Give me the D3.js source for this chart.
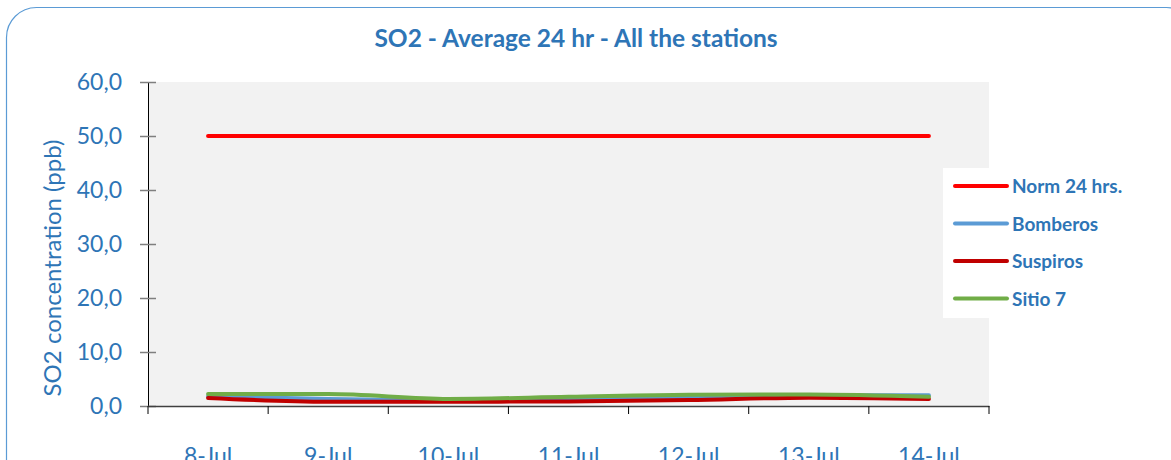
<!DOCTYPE html>
<html>
<head>
<meta charset="utf-8">
<script src="https://cdn.jsdelivr.net/npm/d3@7"></script>
<style>
  body { margin: 0; background: #fff; }
  svg { display: block; font-family: Lato, "Open Sans", sans-serif; }
</style>
</head>
<body>
<div id="chart"></div>
<script>
var days = ["8-Jul", "9-Jul", "10-Jul", "11-Jul", "12-Jul", "13-Jul", "14-Jul"];
var norm = [50, 50, 50, 50, 50, 50, 50];
var bomberos = [1.8, 1.3, 1.05, 1.2, 1.6, 1.9, 2.0];
var suspiros = [1.5, 0.8, 0.8, 0.85, 1.1, 1.55, 1.3];
var sitio7 = [2.2, 2.2, 1.3, 1.7, 2.1, 2.15, 1.7];
var yTicks = [0, 10, 20, 30, 40, 50, 60];

var series = [
    {name: "Norm 24 hrs.", values: norm, color: "#ff0000"},
    {name: "Bomberos", values: bomberos, color: "#5b9bd5"},
    {name: "Suspiros", values: suspiros, color: "#c00000"},
    {name: "Sitio 7", values: sitio7, color: "#70ad47"}
];

var width = 1171, height = 460;
var margin = {left: 148, right: 182, top: 82, bottom: 54};
var blue = "#2e75b6";

var svg = d3.select("#chart").append("svg")
    .attr("width", width)
    .attr("height", height);

// outer frame
svg.append("rect")
    .attr("x", 6.5).attr("y", 7.5)
    .attr("width", 1190).attr("height", 500)
    .attr("rx", 30).attr("ry", 30)
    .attr("fill", "none")
    .attr("stroke", "#5b9bd5")
    .attr("stroke-width", 1.2);

var x = d3.scaleBand()
    .domain(days)
    .range([margin.left, width - margin.right]);

var y = d3.scaleLinear()
    .domain([0, 60])
    .range([height - margin.bottom, margin.top]);

// plot background
svg.append("rect")
    .attr("x", margin.left)
    .attr("y", margin.top)
    .attr("width", width - margin.right - margin.left)
    .attr("height", y(0) - margin.top)
    .attr("fill", "#f2f2f2");

// title
svg.append("text")
    .attr("x", 576).attr("y", 47)
    .attr("text-anchor", "middle")
    .attr("fill", blue)
    .attr("font-weight", "bold")
    .attr("font-size", 24.5)
    .text("SO2 - Average 24 hr - All the stations");

// y axis
var yAxis = svg.append("g")
    .attr("transform", "translate(" + margin.left + ",0)")
    .call(d3.axisLeft(y).tickValues(yTicks).tickSize(0).tickPadding(26)
        .tickFormat(function(d) { return d3.format(".1f")(d).replace(".", ","); }));
yAxis.select(".domain").attr("stroke", "#000");
yAxis.selectAll(".tick text")
    .attr("fill", blue)
    .attr("font-size", 23)
    .attr("font-family", "Lato, 'Open Sans', sans-serif");
yAxis.selectAll(".tick").append("line")
    .attr("x1", -8).attr("x2", 8)
    .attr("stroke", "#7f7f7f")
    .attr("stroke-width", 1.5);

svg.append("text")
    .attr("transform", "translate(61,268) rotate(-90)")
    .attr("text-anchor", "middle")
    .attr("fill", blue)
    .attr("font-size", 24)
    .text("SO2 concentration (ppb)");

// x axis
var xAxis = svg.append("g")
    .attr("transform", "translate(0," + y(0) + ")")
    .call(d3.axisBottom(x).tickSize(0).tickPadding(42));
xAxis.select(".domain").attr("stroke", "#404040").attr("stroke-width", 1.5);
xAxis.selectAll(".tick text")
    .attr("fill", blue)
    .attr("font-size", 23)
    .attr("font-family", "Lato, 'Open Sans', sans-serif");
var edges = d3.range(days.length + 1).map(function(i) { return margin.left + i * x.step(); });
xAxis.selectAll(".edge")
    .data(edges)
    .enter().append("line")
    .attr("x1", function(d) { return d; })
    .attr("x2", function(d) { return d; })
    .attr("y1", 0).attr("y2", 8)
    .attr("stroke", "#000");

// lines
var line = d3.line()
    .x(function(d, i) { return x(days[i]) + x.bandwidth() / 2; })
    .y(function(d) { return y(d); })
    .curve(d3.curveMonotoneX);

svg.append("g").selectAll("path")
    .data(series)
    .enter().append("path")
    .attr("d", function(d) { return line(d.values); })
    .attr("fill", "none")
    .attr("stroke", function(d) { return d.color; })
    .attr("stroke-width", 4)
    .attr("stroke-linecap", "round");

// legend
var legend = svg.append("g");
legend.append("rect")
    .attr("x", 943).attr("y", 168)
    .attr("width", 230).attr("height", 150)
    .attr("fill", "#fff");
var item = legend.selectAll(".item")
    .data(series)
    .enter().append("g")
    .attr("transform", function(d, i) { return "translate(0," + (186 + i * 37.5) + ")"; });
item.append("line")
    .attr("x1", 955).attr("x2", 1007)
    .attr("stroke", function(d) { return d.color; })
    .attr("stroke-width", 4)
    .attr("stroke-linecap", "round");
item.append("text")
    .attr("x", 1012).attr("y", 7)
    .attr("fill", blue)
    .attr("font-weight", "bold")
    .attr("font-size", 19)
    .text(function(d) { return d.name; });
</script>
</body>
</html>
